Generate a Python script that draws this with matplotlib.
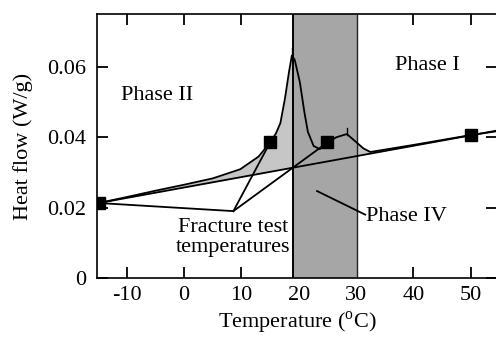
import numpy as np
import matplotlib
matplotlib.use("Agg")
import matplotlib.pyplot as plt

plt.rcParams['font.family'] = ['Liberation Serif', 'DejaVu Serif']
plt.rcParams['mathtext.fontset'] = 'custom'
plt.rcParams['mathtext.rm'] = 'Liberation Serif'
plt.rcParams['axes.unicode_minus'] = False

# --- DSC heat flow trace ---
temp = [-14.9, -10, -5, 0, 5, 9.8, 13, 15.0, 16.0, 16.8, 17.6, 18.3, 18.8, 19.3,
        20.2, 21.0, 21.6, 22.6, 23.7, 24.9, 26.6, 28.4, 30.1, 31.3, 32.5, 40, 50, 55]
heat = [0.0213, 0.0230, 0.0248, 0.0265, 0.0283, 0.0309, 0.0345, 0.0385, 0.0410, 0.0440,
        0.0510, 0.0585, 0.0632, 0.0620, 0.0556, 0.0470, 0.0415, 0.0375, 0.0366, 0.0385,
        0.0400, 0.0409, 0.0385, 0.0368, 0.0358, 0.0378, 0.0406, 0.0418]

# straight baseline
base_t = [-14.9, 55]
base_h = [0.0213, 0.0420]

# fracture test temperatures (markers)
frac_t = [-14.9, 15.0, 25.0, 50.0]
frac_h = [0.0213, 0.0385, 0.0385, 0.0406]

# annotation hub for the "Fracture test temperatures" leaders
hub_t, hub_h = 8.6, 0.0190

# phase IV band
band = [19.0, 30.1]

fig = plt.figure(figsize=(4.96, 3.37), dpi=100)
ax = fig.add_axes([97/496, 1-278/337, (497-97)/496, (278-14)/337])

# fill between trace and baseline
base_interp = np.interp(temp, base_t, base_h)
ax.fill_between(temp, heat, base_interp, where=np.array(heat) >= base_interp,
                color='#c6c6c6', lw=0, zorder=1)

ax.axvspan(band[0], band[1], color='#a6a6a6', zorder=2, lw=0)
ax.axvline(band[0], color='black', lw=1.4, zorder=3)
ax.axvline(band[1], color='#222222', lw=1.0, zorder=3)

ax.plot(base_t, base_h, color='black', lw=1.3, zorder=4)
ax.plot(temp, heat, color='black', lw=1.3, zorder=4)
ax.plot(frac_t, frac_h, 's', color='black', ms=8, zorder=5)

# peak tick marks
ax.plot([18.9, 18.9], [0.0625, 0.0652], color='black', lw=1, zorder=4)
ax.plot([28.4, 28.4], [0.0405, 0.0425], color='black', lw=1, zorder=4)

# leader lines to fracture temperatures
for t, h in zip(frac_t[:3], frac_h[:3]):
    ax.plot([hub_t, t], [hub_h, h], color='black', lw=1.3, zorder=4)

ax.text(hub_t, 0.0115, 'Fracture test\ntemperatures', ha='center', va='center',
        fontsize=16, linespacing=1.12, zorder=6)

# phase IV leader
ax.plot([23.2, 31.6], [0.0247, 0.0180], color='black', lw=1.3, zorder=4)
ax.text(31.7, 0.0175, 'Phase IV', ha='left', va='center', fontsize=16, zorder=6)
ax.text(-4.8, 0.0518, 'Phase II', ha='center', va='center', fontsize=16)
ax.text(42.4, 0.0604, 'Phase I', ha='center', va='center', fontsize=16)

ax.set_xlim(-15.2, 54.6)
ax.set_ylim(0, 0.075)
ax.set_xticks([-10, 0, 10, 20, 30, 40, 50])
ax.set_yticks([0, 0.02, 0.04, 0.06])
ax.set_yticklabels(['0', '0.02', '0.04', '0.06'])
ax.tick_params(direction='in', top=True, right=True, length=8, width=1.3,
               labelsize=16)
ax.tick_params(axis='y', pad=8)
ax.tick_params(axis='x', pad=6)
for s in ax.spines.values():
    s.set_linewidth(1.2)

ax.set_xlabel('Temperature ($^{\\rm o}$C)', fontsize=16, labelpad=3)
ax.set_ylabel('Heat flow (W/g)', fontsize=16, labelpad=10)

fig.savefig('out.png', dpi=100)
